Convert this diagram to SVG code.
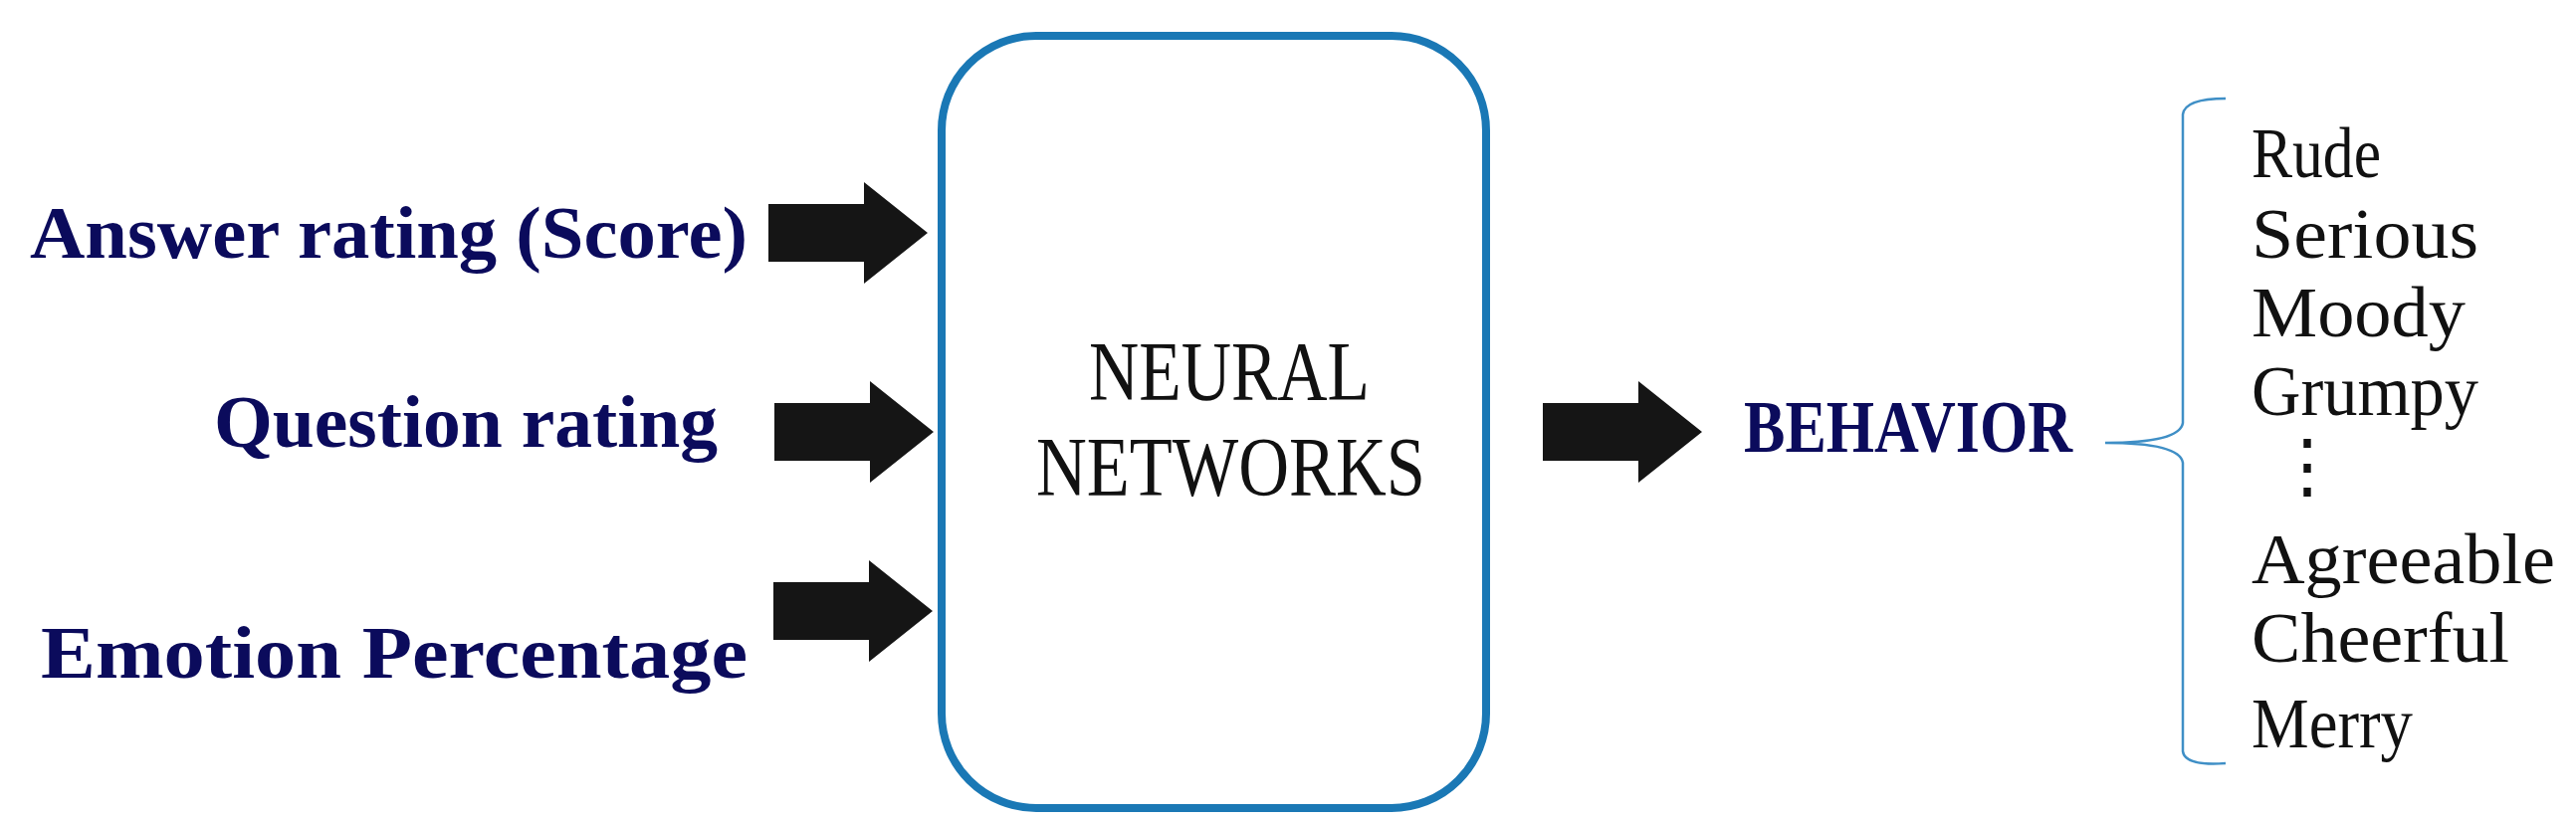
<svg xmlns="http://www.w3.org/2000/svg" width="2588" height="825" viewBox="0 0 2588 825">
<style>
.in{font-family:"Liberation Serif",serif;font-weight:bold;font-size:74px;fill:#0b0b5c}
.nn{font-family:"Liberation Serif",serif;font-size:84px;fill:#111}
.li{font-family:"Liberation Serif",serif;font-size:72px;fill:#111}
.ar{fill:#151515}
</style>
<defs><path id="arr" d="M0,-29 H96 V-51 L160,0 L96,51 V29 H0 Z"/></defs>
<rect width="2588" height="825" fill="#fff"/>
<g id="in1"><text class="in" x="751" y="259" text-anchor="end" textLength="721" lengthAdjust="spacingAndGlyphs">Answer rating (Score)</text></g>
<g id="in2"><text class="in" x="721" y="449" text-anchor="end" textLength="506" lengthAdjust="spacingAndGlyphs">Question rating</text></g>
<g id="in3"><text class="in" x="751" y="681" text-anchor="end" textLength="710" lengthAdjust="spacingAndGlyphs">Emotion Percentage</text></g>
<g id="nn">
<rect x="946" y="36" width="547" height="776" rx="95" fill="none" stroke="#1a78b5" stroke-width="8"/>
<text class="nn" x="1094" y="402" textLength="282" lengthAdjust="spacingAndGlyphs">NEURAL</text>
<text class="nn" x="1041" y="498" textLength="391" lengthAdjust="spacingAndGlyphs">NETWORKS</text>
</g>
<g id="connectors">
<use href="#arr" class="ar" x="772" y="234"/>
<use href="#arr" class="ar" x="778" y="434"/>
<use href="#arr" class="ar" x="777" y="614"/>
<use href="#arr" class="ar" x="1550" y="434"/>
</g>
<g id="behavior"><text class="in" x="1752" y="454" textLength="330" lengthAdjust="spacingAndGlyphs">BEHAVIOR</text></g>
<g id="list">
<path d="M2236,99 Q2195,99 2193,115 V425 Q2190,445 2115,445 Q2190,445 2193,465 V755 Q2195,770 2236,767" fill="none" stroke="#3f8fc6" stroke-width="2.5"/>
<text class="li" x="2262" y="178" textLength="130" lengthAdjust="spacingAndGlyphs">Rude</text>
<text class="li" x="2262" y="259" textLength="228" lengthAdjust="spacingAndGlyphs">Serious</text>
<text class="li" x="2262" y="338" textLength="215" lengthAdjust="spacingAndGlyphs">Moody</text>
<text class="li" x="2262" y="417" textLength="228" lengthAdjust="spacingAndGlyphs">Grumpy</text>
<text class="li" x="2318" y="492" text-anchor="middle" font-size="42">⋮</text>
<text class="li" x="2262" y="586" textLength="305" lengthAdjust="spacingAndGlyphs">Agreeable</text>
<text class="li" x="2262" y="665" textLength="259" lengthAdjust="spacingAndGlyphs">Cheerful</text>
<text class="li" x="2262" y="751" textLength="162" lengthAdjust="spacingAndGlyphs">Merry</text>
</g>
</svg>
